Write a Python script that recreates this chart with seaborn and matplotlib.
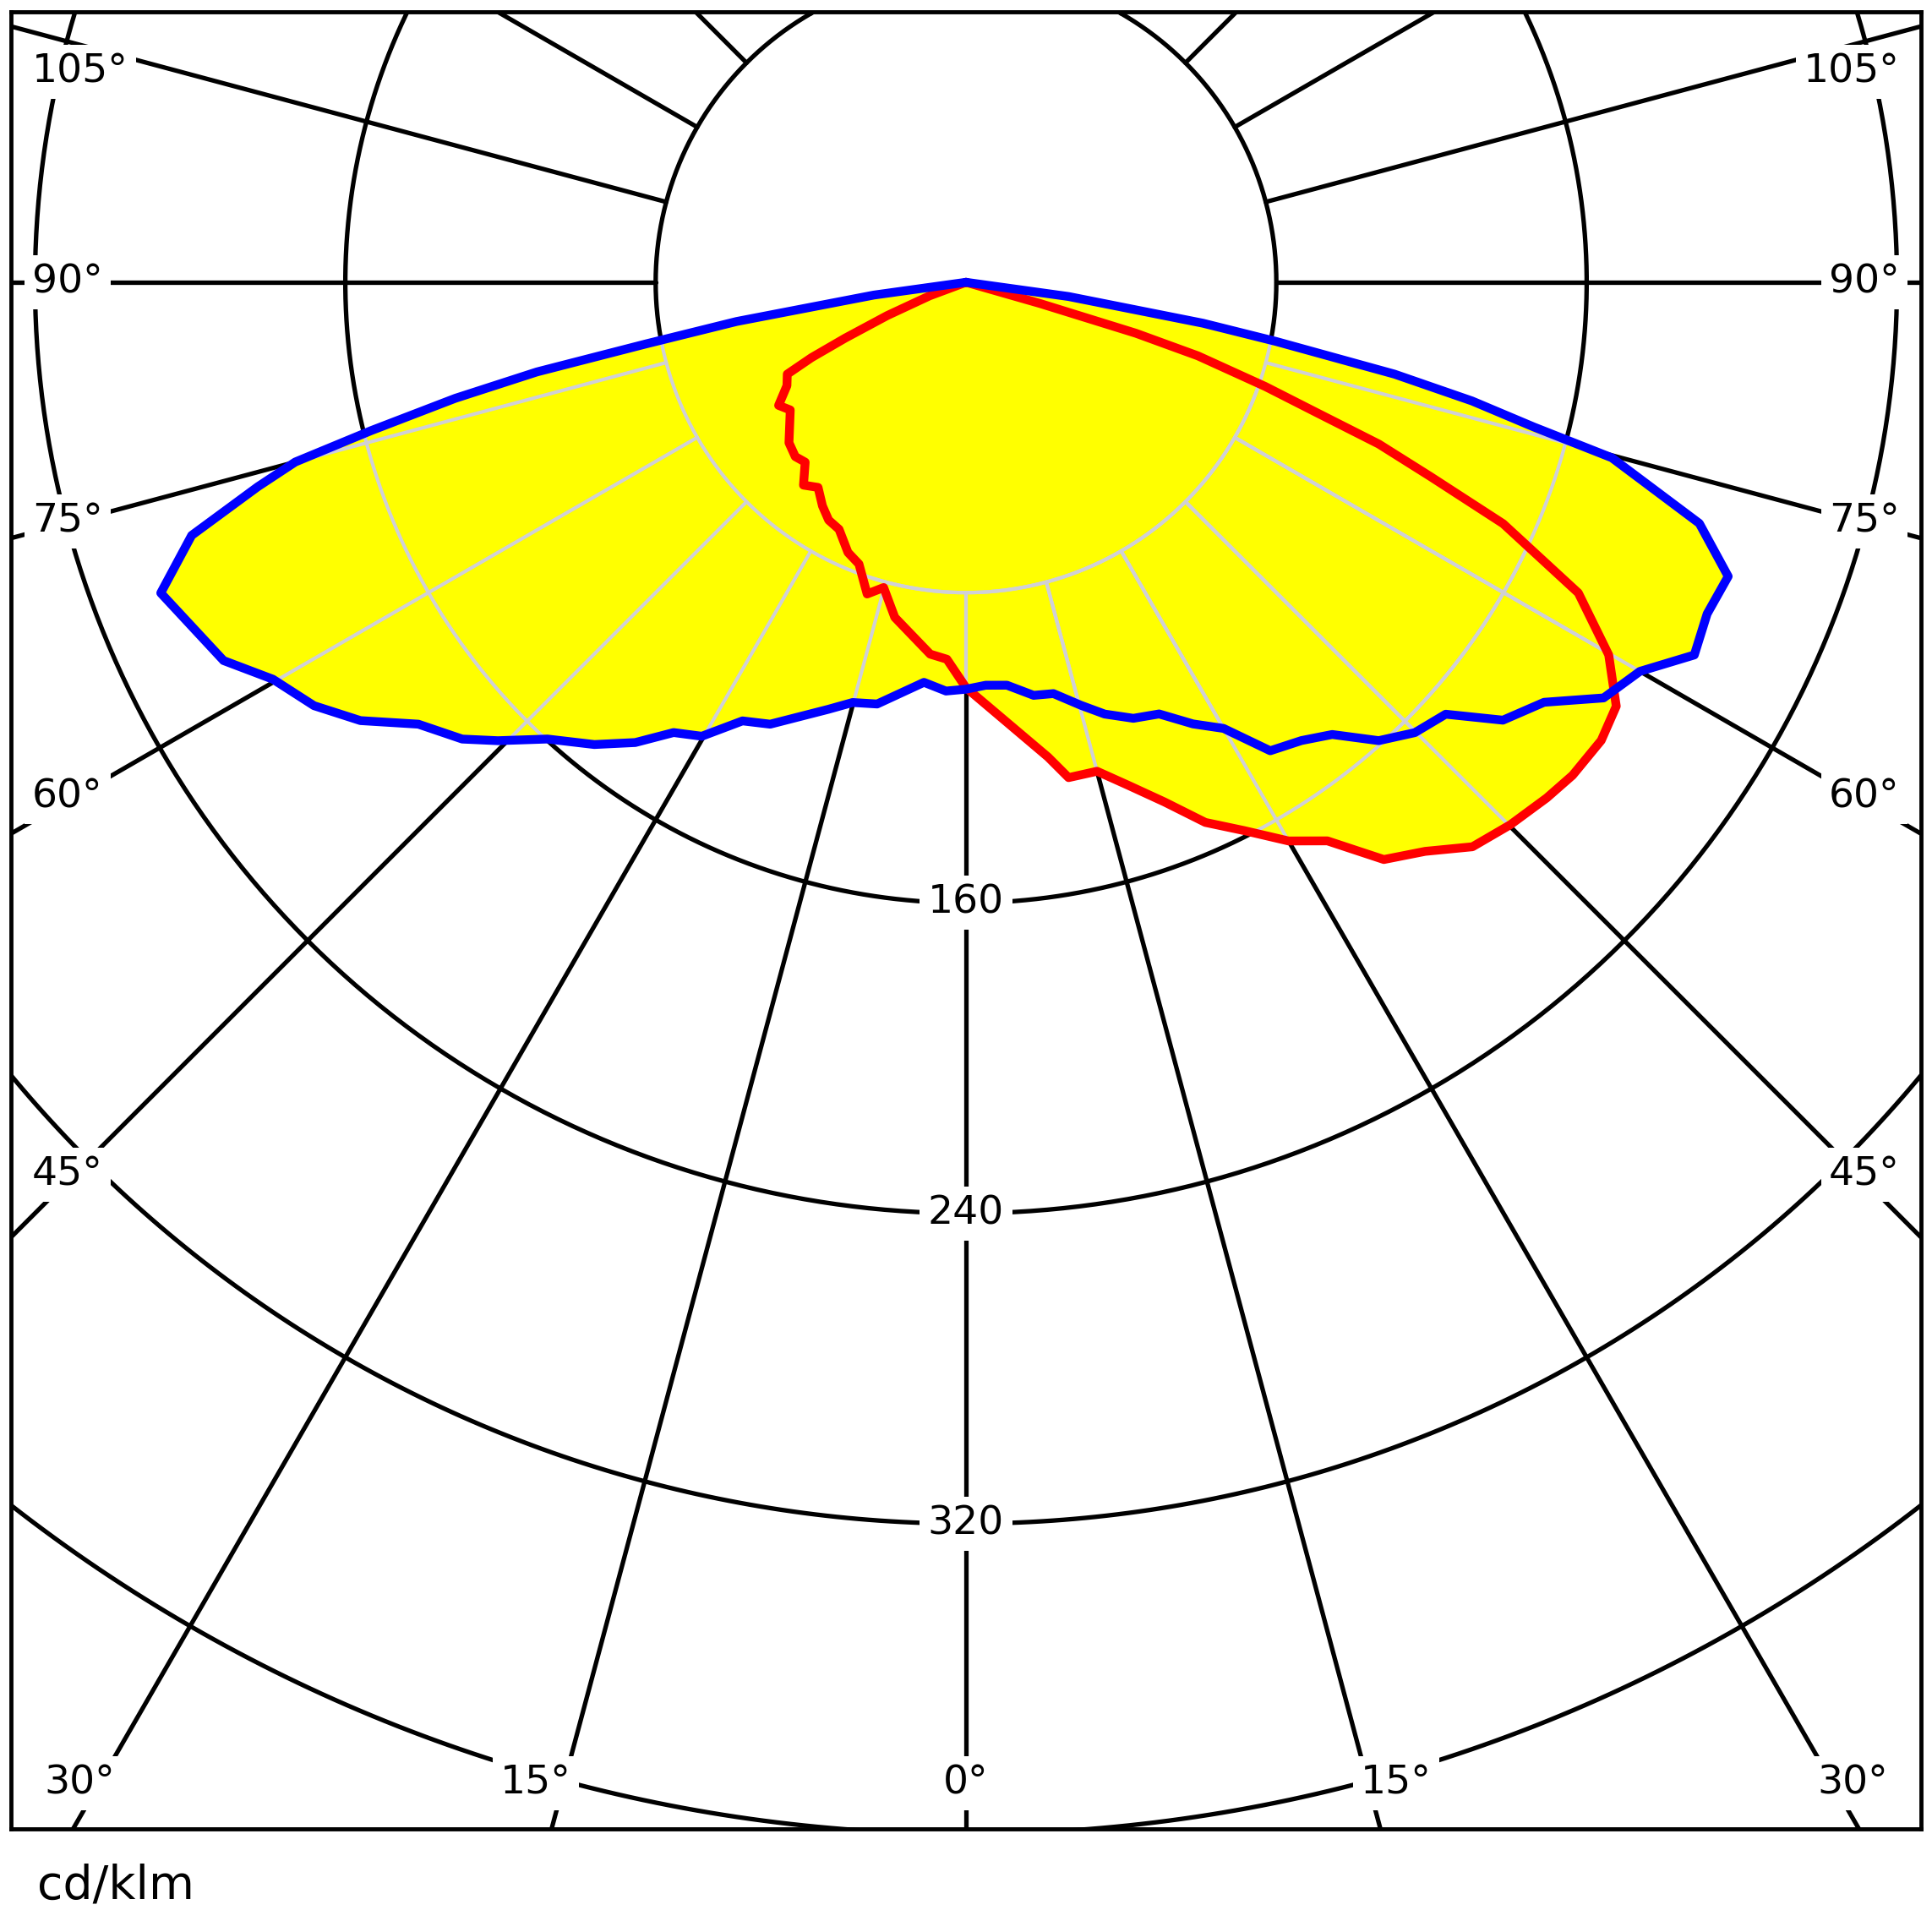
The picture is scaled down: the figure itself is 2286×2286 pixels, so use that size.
import numpy as np
import matplotlib
matplotlib.use("Agg")
import matplotlib.pyplot as plt
import seaborn as sns

# C0-C180 plane (blue), gamma in degrees, negative = left half, values in cd/klm
blue_gamma = [-90, -82.1, -80.3, -79.1, -78.2, -77.2, -76.0, -75.0, -73.9, -71.9, -68.9,
              -63.0, -60.2, -57.0, -54.1, -51.1, -47.8, -45.6, -42.5, -38.8, -35.7,
              -33.0, -30.2, -27.0, -23.9, -17.9, -15.1, -11.9, -6.0, -2.8, 0,
              2.8, 5.8, 9.3, 12.0, 15.2, 17.8, 21.0, 24.1, 27.2, 30.0, 33.0, 36.2,
              39.0, 42.0, 44.9, 48.0, 50.8, 54.0, 56.9, 60.0, 62.9, 65.9, 68.9,
              71.8, 74.8, 75.7, 76.8, 77.9, 79.2, 80.2, 82.1, 90]
blue_cd = [0, 24, 60, 84, 113, 135, 158, 179, 190, 210, 222.5,
           214.8, 205.9, 200.4, 192.7, 181.4, 175.3, 168.9, 159.7, 152.9, 146.1,
           138.4, 135.4, 126.9, 124.6, 115.7, 112.2, 111.1, 103.7, 105.5, 104.9,
           104.0, 104.4, 107.9, 108.4, 113.0, 116.9, 120.4, 121.9, 128.0, 132.8, 144.0, 146.4,
           150.0, 159.0, 163.9, 166.4, 178.6, 184.2, 196.2, 200.6, 210.9, 209.3, 210.6,
           199.0, 172.5, 151.1, 134.0, 113.0, 81.3, 62.0, 26.7, 0]

# C90-C270 plane (red)
red_gamma = [-90, -69.6, -67.1, -65.2, -64.0, -62.8, -60.0, -56.7, -54.0, -47.8, -44.4,
             -41.8, -38.7, -35.8, -32.7, -30.0, -27.2, -23.6, -20.8, -17.6, -15.1,
             -12.0, -8.9, -5.5, -2.9, 0, 5.6, 9.8, 11.7, 15.0, 17.9, 20.9, 23.9,
             26.9, 30.0, 32.9, 35.9, 38.9, 41.9, 45.1, 48.4, 50.9, 54.2, 56.9,
             59.9, 63.1, 65.8, 67.3, 68.6, 69.6, 70.8, 72.4, 73.3, 74.0, 90]
red_cd = [0, 10, 22, 34.3, 44.3, 51.8, 53.3, 57.8, 56.0, 61.6, 62.9,
          62.2, 67.0, 65.2, 68.5, 70.8, 71.6, 76.0, 77.7, 84.3, 81.5,
          88.3, 91.8, 96.3, 97.3, 104.5, 114.5, 124.2, 130.4, 130.5, 136.3, 143.4, 152.3,
          158.5, 166.3, 171.5, 183.7, 188.5, 195.5, 198.1, 200.2, 201.5, 201.9, 200.1,
          191.5, 177.0, 151.8, 129.8, 114.3, 96.6, 81.7, 62.7, 45.7, 20.0, 0]

rings = [80, 160, 240, 320, 400]
ring_labels = ["160", "240", "320"]
side_labels = ["105°", "90°", "75°", "60°", "45°"]
bottom_labels = ["30°", "15°", "0°", "15°", "30°"]

# layout (pixels of the 2286 px picture)
W = 2286
SCALE = 4.59          # px per cd/klm
CX, CY = 1143, 334    # pole of the diagram
LEFT, RIGHT, TOP, BOTTOM = 13, 2273, 14, 2164


def to_xy(gamma, cd):
    g = np.deg2rad(np.asarray(gamma, dtype=float))
    r = np.asarray(cd, dtype=float)
    return r * np.sin(g), -r * np.cos(g)


def draw_grid(ax, color, lw, z, clip=None):
    t = np.linspace(0, 2 * np.pi, 721)
    lines = []
    for r in rings:
        lines += ax.plot(r * np.sin(t), r * np.cos(t), color=color, lw=lw, zorder=z)
    for a in np.deg2rad(np.arange(-180, 180, 15)):
        lines += ax.plot([80 * np.sin(a), 700 * np.sin(a)],
                         [-80 * np.cos(a), -700 * np.cos(a)],
                         color=color, lw=lw, zorder=z)
    if clip is not None:
        for ln in lines:
            ln.set_clip_path(clip)


sns.set_style("white")
plt.rcParams["font.family"] = ["DejaVu Sans"]
plt.rcParams["text.color"] = "black"

fig = plt.figure(figsize=(W / 100, W / 100), dpi=100)
ax = fig.add_axes([LEFT / W, 1 - BOTTOM / W, (RIGHT - LEFT) / W, (BOTTOM - TOP) / W])

draw_grid(ax, "black", 3.8, 1)

bx, by = to_xy(blue_gamma, blue_cd)
rx, ry = to_xy(red_gamma, red_cd)
blue_poly = ax.fill(bx, by, color="#ffff00", lw=0, zorder=2)[0]
red_poly = ax.fill(rx, ry, color="#ffff00", lw=0, zorder=2)[0]

# light grid visible inside the filled area
draw_grid(ax, "#d0d0d6", 3.0, 3, clip=blue_poly)
draw_grid(ax, "#d0d0d6", 3.0, 3, clip=red_poly)

sns.lineplot(x=rx, y=ry, sort=False, estimator=None, color="#ff0000", lw=7.5, ax=ax, zorder=4)
sns.lineplot(x=bx, y=by, sort=False, estimator=None, color="#0000ff", lw=7.5, ax=ax, zorder=4)

box = dict(boxstyle="square,pad=0.2", fc="white", ec="none")
for lab in ring_labels:
    ax.text(0, -float(lab), lab, ha="center", va="center", fontsize=34, bbox=box, zorder=6)

side_y = [54.2, 0, -61.7, -132.7, -230.1]
side_x = [228.3, 231.6, 231.6, 231.6, 231.6]
for lab, sx, sy in zip(side_labels, side_x, side_y):
    ax.text(-sx, sy, lab, ha="center", va="center", fontsize=34, bbox=box, zorder=6)
    ax.text(sx, sy, lab, ha="center", va="center", fontsize=34, bbox=box, zorder=6)

bottom_x = [-228.5, -110.9, 0, 110.9, 228.5]
for lab, bxp in zip(bottom_labels, bottom_x):
    ax.text(bxp, -386.9, lab, ha="center", va="center", fontsize=34, bbox=box, zorder=6)

ax.set_xlim((LEFT - CX) / SCALE, (RIGHT - CX) / SCALE)
ax.set_ylim((CY - BOTTOM) / SCALE, (CY - TOP) / SCALE)
ax.set_xticks([])
ax.set_yticks([])
ax.set_xlabel("")
ax.set_ylabel("")
for sp in ax.spines.values():
    sp.set_visible(True)
    sp.set_color("black")
    sp.set_linewidth(3.5)
    sp.set_zorder(7)

fig.text(44 / W, 1 - 2232 / W, "cd/klm", fontsize=40, va="center", ha="left")

fig.savefig("out.png", dpi=100, facecolor="white")
plt.close(fig)
